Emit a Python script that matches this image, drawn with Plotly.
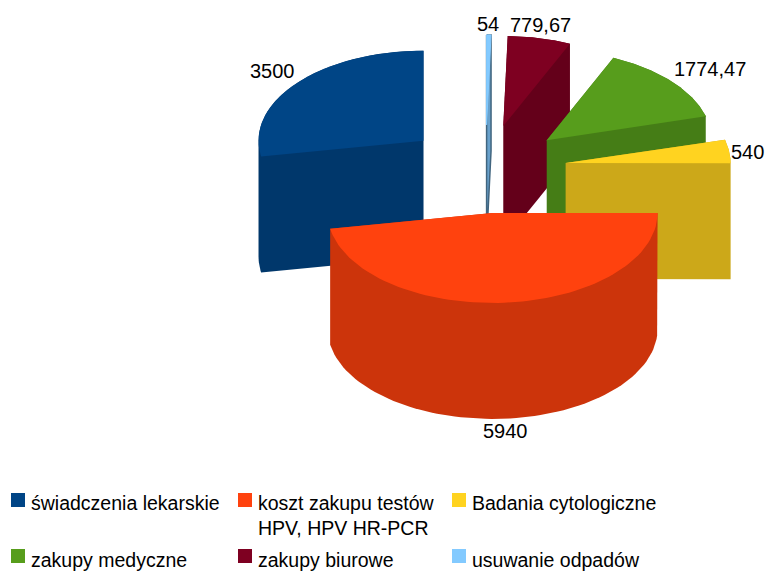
import numpy as np
import plotly.graph_objects as go

categories = ["świadczenia lekarskie", "koszt zakupu testów<br>HPV, HPV HR-PCR", "Badania cytologiczne",
              "zakupy medyczne", "zakupy biurowe", "usuwanie odpadów"]
values = [3500, 5940, 540, 1774.47, 779.67, 54]
value_labels = ["3500", "5940", "540", "1774,47", "779,67", "54"]
colors = ["#004586", "#ff420e", "#ffd320", "#579d1c", "#7e0021", "#83caff"]

W, H = 766, 571
CX, CY, RX, RY, DEPTH, EXPLODE = 485.5, 169, 165, 90, 116, 0.49
START = 270.0
FONT = "Liberation Sans"


def darker(c, f=0.8):
    r, g, b = [int(c[i:i + 2], 16) for i in (1, 3, 5)]
    return f"rgb({int(r*f)},{int(g*f)},{int(b*f)})"


def hull(pts):
    pts = sorted(set(map(tuple, np.round(pts, 3))))
    def half(seq):
        out = []
        for p in seq:
            while len(out) > 1 and ((out[-1][0]-out[-2][0])*(p[1]-out[-2][1]) -
                                    (out[-1][1]-out[-2][1])*(p[0]-out[-2][0])) <= 0:
                out.pop()
            out.append(p)
        return out
    lo, up = half(pts), half(pts[::-1])
    return np.array(lo[:-1] + up[:-1] + lo[:1])


total = sum(values)
slices = []
a = START
for v, c in zip(values, colors):
    sweep = v / total * 360
    a0, a1 = a - sweep, a
    mid = np.radians((a0 + a1) / 2)
    cx = CX + EXPLODE * RX * np.cos(mid)
    cy = CY + EXPLODE * RY * np.sin(mid)
    t = np.radians(np.linspace(a0, a1, 80))
    top = np.vstack([[cx, cy], np.c_[cx + RX * np.cos(t), cy + RY * np.sin(t)], [cx, cy]])
    slices.append((cy, top, c, sweep))
    a = a0

fig = go.Figure()
for cy, top, c, sweep in sorted(slices, key=lambda s: s[0]):
    side = hull(np.vstack([top, top + [0, DEPTH]]))
    edge = dict(width=1.5, color=darker(c, 0.5)) if sweep < 3 else dict(width=0)
    fig.add_trace(go.Scatter(x=side[:, 0], y=side[:, 1], mode="lines", fill="toself", fillcolor=darker(c),
                             line=edge, hoverinfo="skip", showlegend=False))
    fig.add_trace(go.Scatter(x=top[:, 0], y=top[:, 1], mode="lines", fill="toself", fillcolor=c,
                             line=dict(width=1, color=c) if sweep < 3 else dict(width=0),
                             hoverinfo="skip", showlegend=False))

label_pos = [(272, 71), (505, 431), (747, 152), (710, 69), (540, 25), (488, 24)]
annotations = [dict(x=x, y=y, text=t, showarrow=False, xanchor="center", yanchor="middle",
                    font=dict(family=FONT, size=20, color="#000000"))
               for (x, y), t in zip(label_pos, value_labels)]

legend_x = [18, 245, 459, 18, 245, 459]
legend_y = [500, 500, 500, 556, 556, 556]
fig.add_trace(go.Scatter(x=legend_x, y=legend_y, mode="markers", hoverinfo="skip", showlegend=False,
                         marker=dict(symbol="square", size=14, color=colors, line=dict(width=0))))
for lx, ly, name in zip(legend_x, legend_y, categories):
    annotations.append(dict(x=lx + 11, y=ly - 10 + (1 if ly > 520 else 0), text=name, showarrow=False,
                            xanchor="left", yanchor="top", align="left",
                            font=dict(family=FONT, size=19.5, color="#000000")))

fig.update_layout(width=W, height=H, margin=dict(l=0, r=0, t=0, b=0), paper_bgcolor="white",
                  plot_bgcolor="white", showlegend=False, annotations=annotations,
                  xaxis=dict(range=[0, W], visible=False, fixedrange=True),
                  yaxis=dict(range=[H, 0], visible=False, fixedrange=True))
fig.write_html("out.html", config=dict(displayModeBar=False),
               post_script="document.body.style.margin='0';document.body.style.overflow='hidden';")
